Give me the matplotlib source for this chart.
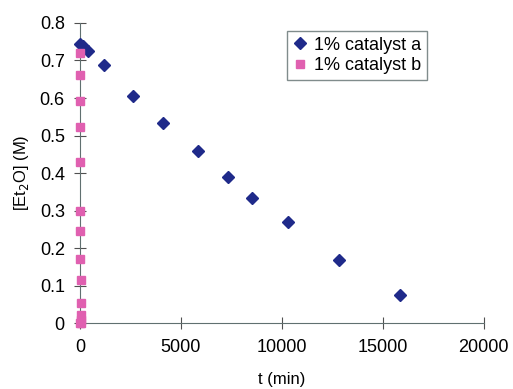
import numpy as np
import matplotlib.pyplot as plt

plt.rcParams['font.family'] = ['Liberation Sans', 'DejaVu Sans']

# catalyst a
t_a = [0, 150, 400, 1190, 2640, 4090, 5830, 7310, 8500, 10280, 12820, 15840]
c_a = [0.745, 0.738, 0.726, 0.689, 0.605, 0.534, 0.460, 0.390, 0.335, 0.269, 0.169, 0.074]

# catalyst b
t_b = [10, 10, 20, 20, 10, 20, 20, 15, 40, 60, 60, 40, 30, 20]
c_b = [0.720, 0.661, 0.591, 0.522, 0.429, 0.300, 0.245, 0.171, 0.114, 0.054, 0.022, 0.009, 0.002, 0.0]

fig = plt.figure(figsize=(5.13, 3.89), dpi=100)
ax = fig.add_axes([0.156, 0.169, 0.787, 0.772])

ax.plot(t_a, c_a, 'D', color='#1f2a8a', markersize=6.5, label='1% catalyst a', clip_on=False, zorder=3)
ax.plot(t_b, c_b, 's', color='#e060b0', markersize=6, label='1% catalyst b', clip_on=False, zorder=3)

ax.set_xlim(0, 20000)
ax.set_ylim(0, 0.8)
ax.set_xticks([0, 5000, 10000, 15000, 20000])
ax.set_yticks(np.arange(0, 0.81, 0.1))
ax.set_yticklabels(['0', '0.1', '0.2', '0.3', '0.4', '0.5', '0.6', '0.7', '0.8'])

for s in ['top', 'right']:
    ax.spines[s].set_visible(False)
for s in ['left', 'bottom']:
    ax.spines[s].set_color('#607070')
ax.tick_params(direction='inout', length=8, color='#505050', labelsize=13, pad=7)

ax.set_xlabel('t (min)', fontsize=12, labelpad=12)
ax.set_ylabel('[Et$_2$O] (M)', fontsize=12, labelpad=6)

leg = ax.legend(loc='upper left', bbox_to_anchor=(0.5, 0.99), fontsize=13,
                frameon=True, fancybox=False, handlelength=0.8, handletextpad=0.4,
                borderpad=0.3, labelspacing=0.2, borderaxespad=0.3)
leg.get_frame().set_edgecolor('#607070')
leg.get_frame().set_linewidth(1)

fig.savefig('out.png', dpi=100)
